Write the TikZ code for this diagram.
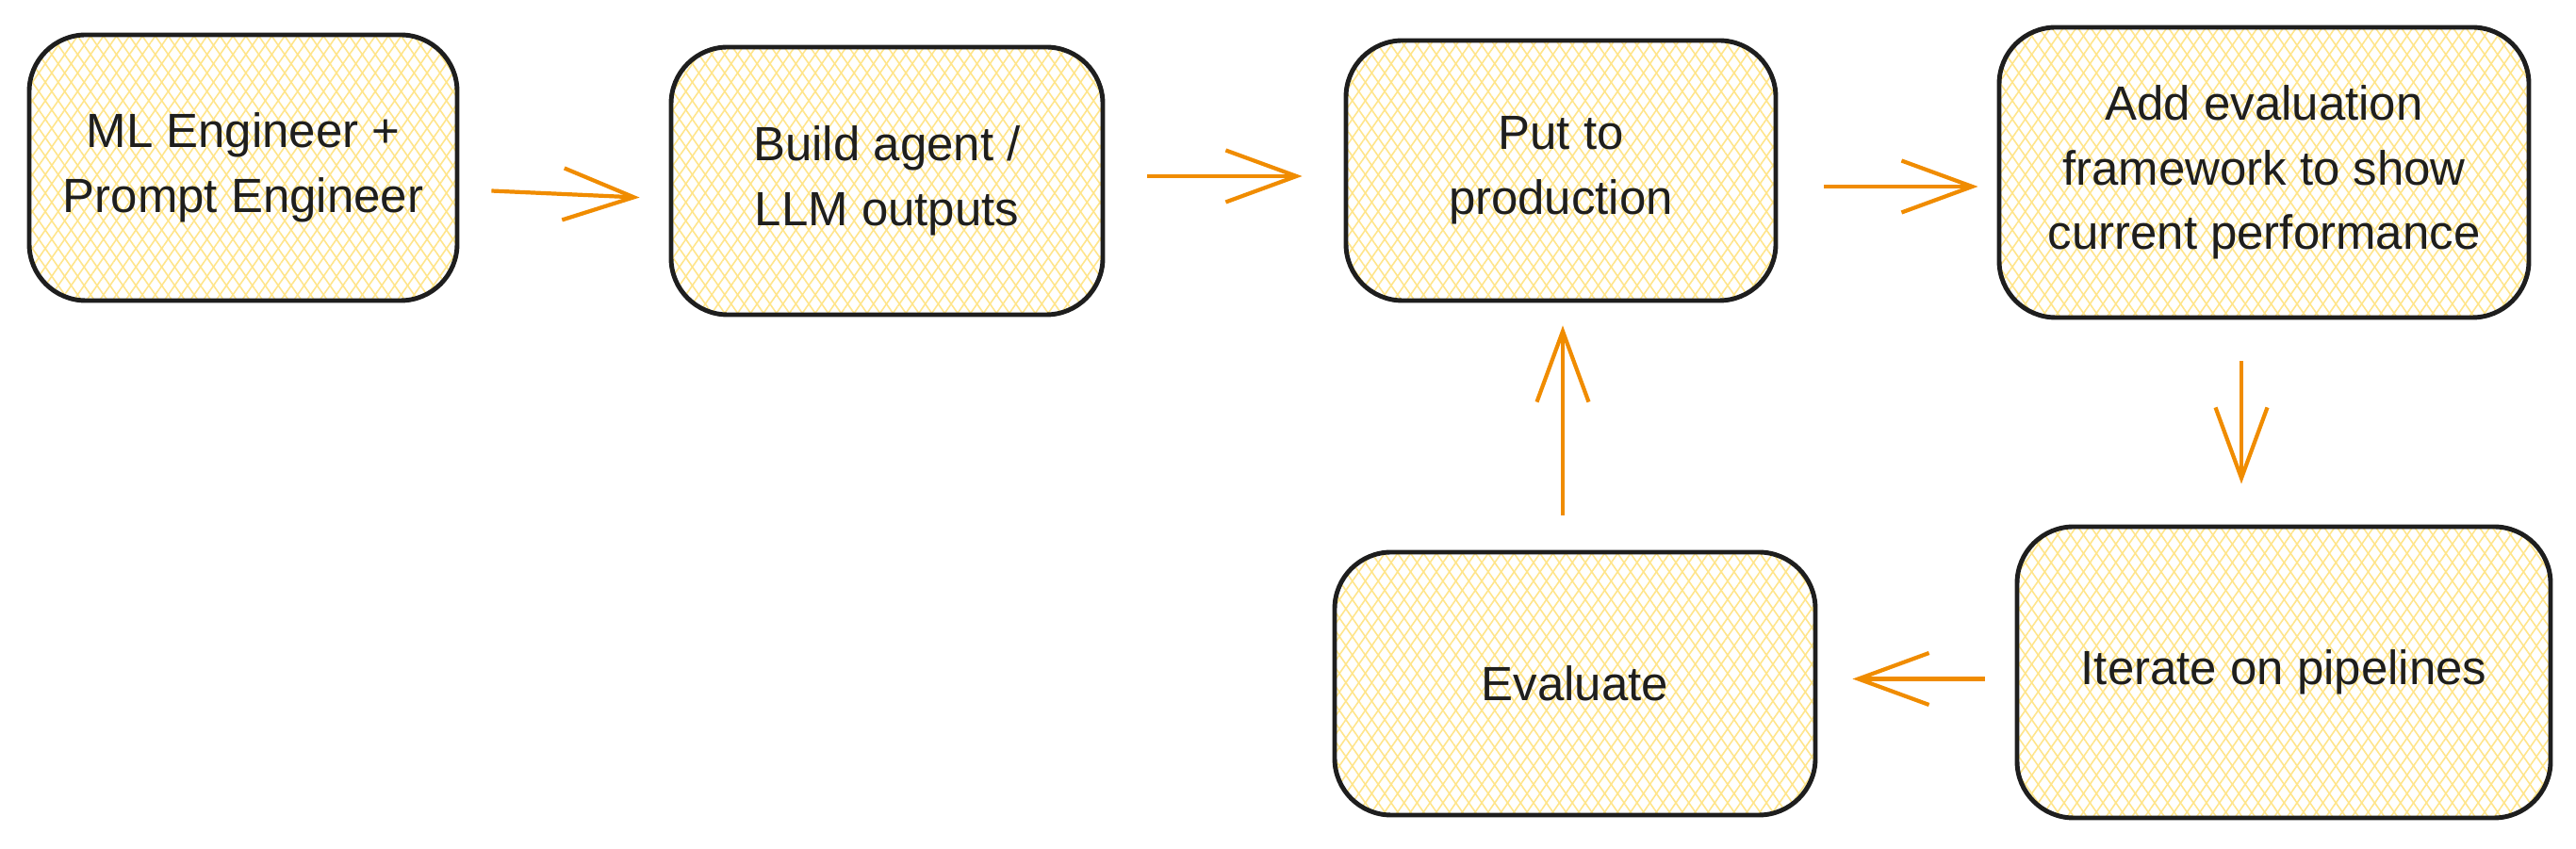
\documentclass[tikz,border=0pt]{standalone}
\usepackage{fontspec}
\setmainfont{Liberation Sans}
\usepackage{tikz}
\usetikzlibrary{arrows.meta,patterns.meta}

\definecolor{ink}{HTML}{1E1E1E}
\definecolor{hatch}{HTML}{FFE58A}
\definecolor{flowc}{HTML}{F08C00}

\tikzset{
  stepbox/.style={draw = ink, line width = 1.4pt, rounded corners = 0.6cm,
    align = center, text = ink, font = \fontsize{14.5}{19.5}\selectfont,
    inner sep = 0pt,
    preaction = {fill = white},
    preaction = {pattern = {Lines[angle = 55, distance = 3.2pt, line width = 0.45pt]}, pattern color = hatch},
    preaction = {pattern = {Lines[angle = -55, distance = 3.2pt, line width = 0.45pt]}, pattern color = hatch}},
  flow/.style={draw = flowc, line width = 1.2pt,
    -{Straight Barb[length = 0.75cm, width = 0.55cm, line width = 1.2pt]}}
}

\begin{document}
\begin{tikzpicture}
       \useasboundingbox (0, 0) rectangle (27.33, 9.01);
       % 上排四个框
       \node [stepbox, minimum width = 4.54cm, minimum height = 2.82cm] (ml) at (2.58, 7.23) {ML Engineer +\\Prompt Engineer};
       \node [stepbox, minimum width = 4.58cm, minimum height = 2.84cm] (build) at (9.41, 7.09) {Build agent /\\LLM outputs};
       \node [stepbox, minimum width = 4.56cm, minimum height = 2.76cm] (prod) at (16.56, 7.20) {Put to\\production};
       \node [stepbox, minimum width = 5.62cm, minimum height = 3.08cm] (evalfw) at (24.02, 7.18) {Add evaluation\\framework to show\\current performance};
       % 下排两个框
       \node [stepbox, minimum width = 5.66cm, minimum height = 3.09cm] (iter) at (24.23, 1.875) {Iterate on pipelines};
       \node [stepbox, minimum width = 5.10cm, minimum height = 2.79cm] (evaluate) at (16.71, 1.755) {Evaluate};

       % 箭头.
       \draw [flow, shorten <= 0.34cm, shorten >= 0.31cm] ([yshift = -0.23cm]ml.east) -- ([yshift = -0.19cm]build.west);
       \draw [flow, shorten <= 0.45cm, shorten >= 0.44cm] ([yshift = 0.05cm]build.east) -- ([yshift = 0.05cm]build.east -| prod.west);
       \draw [flow, shorten <= 0.49cm, shorten >= 0.20cm] ([yshift = -0.17cm]prod.east) -- ([yshift = -0.17cm]prod.east -| evalfw.west);
       \draw [flow, shorten <= 0.44cm, shorten >= 0.43cm] ([xshift = -0.24cm]evalfw.south) -- ([xshift = -0.24cm]evalfw.south |- iter.north);
       \draw [flow, shorten <= 0.32cm, shorten >= 0.37cm] ([yshift = -0.07cm]iter.west) -- ([yshift = -0.07cm]iter.west -| evaluate.east);
       % 回到生产
       \draw [flow, shorten <= 0.37cm, shorten >= 0.24cm] ([xshift = -0.13cm]evaluate.north) -- ([xshift = -0.13cm]evaluate.north |- prod.south);
     \end{tikzpicture}
\end{document}
